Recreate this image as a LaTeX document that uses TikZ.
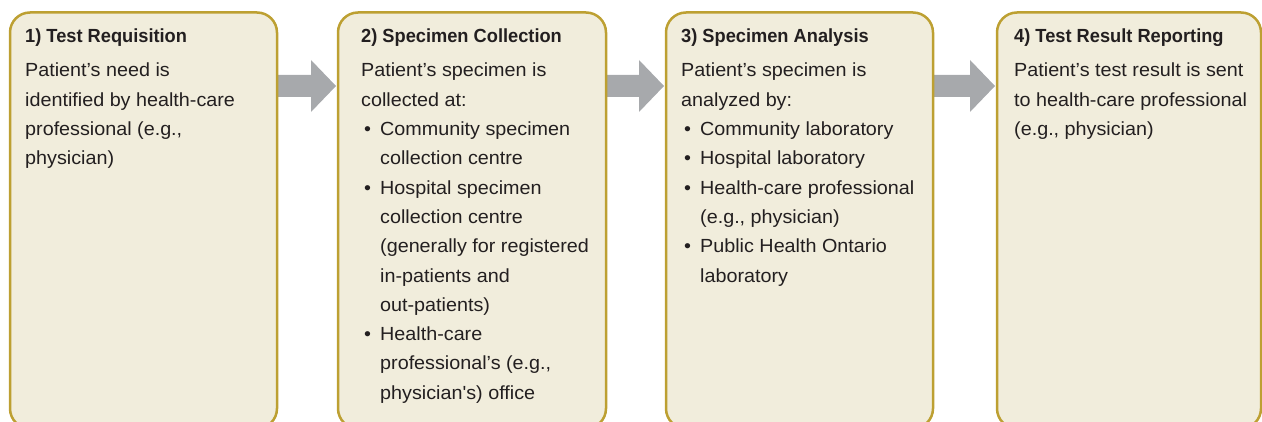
\documentclass[tikz,border=0pt]{standalone}
\usepackage{fontspec}
\setmainfont{Liberation Sans}[FakeStretch=1.04]
\newfontfamily\headfont{Liberation Sans}[FakeStretch=0.96]
\newfontfamily\quotefont{Liberation Sans}[FakeStretch=1.04]
\usetikzlibrary{calc}
\definecolor{boxfill}{HTML}{F1EDDC}
\definecolor{boxline}{HTML}{BDA032}
\definecolor{arrowgray}{HTML}{A7A9AC}
\definecolor{ink}{HTML}{231F20}
\pgfdeclarelayer{bg}
\pgfsetlayers{bg,main}
% body text block: first baseline sits on the anchor
\newcommand\bodytext[1]{\begin{minipage}[t]{300pt}\fontsize{19}{29.3}\selectfont\raggedright #1\end{minipage}}
\newcommand\bul{\makebox[19pt][l]{\hspace{3pt}•}}
\newcommand\cont{\hspace*{19pt}}
\newcommand\straightquote{{\quotefont\char"0027}}
\begin{document}
\begin{tikzpicture}[x=1pt,y=-1pt,
  stepbox/.style={draw=boxline,line width=2.5pt,fill=boxfill,rounded corners=20pt,
    anchor=north west,inner sep=0pt,outer sep=0pt,minimum height=416pt},
  headtext/.style={anchor=base west,inner sep=0pt,text=ink,font=\headfont\bfseries\fontsize{19}{23}\selectfont},
  bodynode/.style={anchor=base west,inner sep=0pt,text=ink},
  blockarrow/.style={fill=arrowgray,draw=none}]
\useasboundingbox (0,0) rectangle (1262,422);
\clip (0,0) rectangle (1262,422);

% the four process steps
\node[stepbox,minimum width=267pt] (b1) at (10,12.5) {};
\node[stepbox,minimum width=268pt] (b2) at (338,12.5) {};
\node[stepbox,minimum width=267pt] (b3) at (666,12.5) {};
\node[stepbox,minimum width=264pt] (b4) at (997,12.5) {};

% block arrows between consecutive steps
\begin{pgfonlayer}{bg}
\foreach \a/\b in {b1/b2,b2/b3,b3/b4}{
  \fill[blockarrow]
    ($(\a.north east)+(0,62.5)$) -- ($(\b.north west)+(-27,62.5)$) --
    ($(\b.north west)+(-27,47.5)$) -- ($(\b.north west)+(-2,73.5)$) --
    ($(\b.north west)+(-27,99.5)$) -- ($(\b.north west)+(-27,84.5)$) --
    ($(\a.north east)+(0,84.5)$) -- cycle;
}
\end{pgfonlayer}

% step 1
\node[headtext] (h1) at (25,43) {1) Test Requisition};
\node[bodynode] (t1) at (25,77) {\bodytext{%
Patient’s need is\\
identified by health-care\\
professional (e.g.,\\
physician)}};

% step 2
\node[headtext] (h2) at (361,43) {2) Specimen Collection};
\node[bodynode] (t2) at (361,77) {\bodytext{%
Patient’s specimen is\\
collected at:\\
\bul Community specimen\\
\cont collection centre\\
\bul Hospital specimen\\
\cont collection centre\\
\cont (generally for registered\\
\cont in-patients and\\
\cont out-patients)\\
\bul Health-care\\
\cont professional’s (e.g.,\\
\cont physician\straightquote s) office}};

% step 3
\node[headtext] (h3) at (681,43) {3) Specimen Analysis};
\node[bodynode] (t3) at (681,77) {\bodytext{%
Patient’s specimen is\\
analyzed by:\\
\bul Community laboratory\\
\bul Hospital laboratory\\
\bul Health-care professional\\
\cont (e.g., physician)\\
\bul Public Health Ontario\\
\cont laboratory}};

% step 4
\node[headtext] (h4) at (1014,43) {4) Test Result Reporting};
\node[bodynode] (t4) at (1014,77) {\bodytext{%
Patient’s test result is sent\\
to health-care professional\\
(e.g., physician)}};
\end{tikzpicture}
\end{document}
